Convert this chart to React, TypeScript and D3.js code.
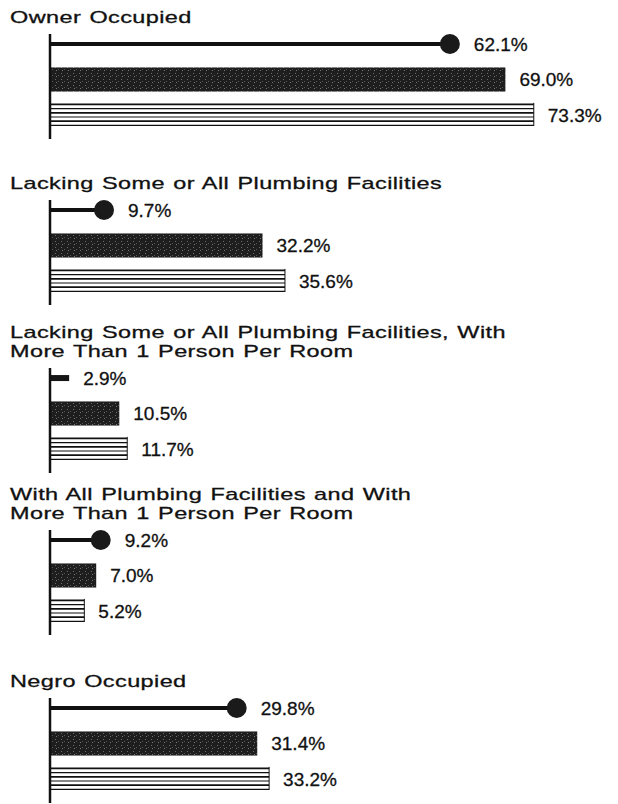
import React from 'react';
import * as d3 from 'd3';

// one entry per panel, top to bottom
const panelTitles: string[][] = [
    ['Owner Occupied'],
    ['Lacking Some or All Plumbing Facilities'],
    ['Lacking Some or All Plumbing Facilities, With', 'More Than 1 Person Per Room'],
    ['With All Plumbing Facilities and With', 'More Than 1 Person Per Room'],
    ['Negro Occupied'],
];
const seriesNames = ['dotLine', 'solid', 'striped'];
const dotLineValues = [62.1, 9.7, 2.9, 9.2, 29.8];
const solidValues = [69.0, 32.2, 10.5, 7.0, 31.4];
const stripedValues = [73.3, 35.6, 11.7, 5.2, 33.2];

// axis top of each panel
const panelTops = [34, 200, 368, 530, 698];

const WIDTH = 618;
const HEIGHT = 804;
const FONT = '"Liberation Sans", Arial, sans-serif';
const INK = '#111';

const fmt = (v: number) => `${v.toFixed(1)}%`;

const x = d3.scaleLinear().domain([0, 100]).range([50, 710]);

const Label: React.FC<{ x: number; y: number; v: number }> = ({ x, y, v }) => (
    <text x={x} y={y} dy="0.36em" fontFamily={FONT} fontSize={19} fill={INK} stroke={INK} strokeWidth={0.3}>{fmt(v)}</text>
);

const Panel: React.FC<{ i: number }> = ({ i }) => {
    const top = panelTops[i];
    const y = d3.scaleBand<string>().domain(seriesNames).range([top - 2, top + 93]).paddingInner(0.32);
    const bw = y.bandwidth();
    const r = 10;
    const lines = panelTitles[i];

    const a = dotLineValues[i];
    const b = solidValues[i];
    const c = stripedValues[i];
    const yA = (y('dotLine') as number) + bw / 2;
    const yB = y('solid') as number;
    const yC = y('striped') as number;
    const hasDot = x(a) - x(0) > 2 * r + 4;

    const stripes = d3.range(1.5, bw, 4.2);

    return (
        <g>
            {lines.map((t, k) => (
                <g key={k} transform={`translate(10,${top - 11 - (lines.length - 1 - k) * 19}) scale(1.38,1)`}>
                    <text fontFamily={FONT} fontSize={17} letterSpacing={0.3} wordSpacing={1}
                        fill={INK} stroke={INK} strokeWidth={0.3}>{t}</text>
                </g>
            ))}
            {/* dot and line */}
            {hasDot ? (
                <g>
                    <line x1={x(0)} x2={x(a) - r} y1={yA} y2={yA} stroke={INK} strokeWidth={4} />
                    <circle cx={x(a) - r} cy={yA} r={r} fill="#1a1a1a" />
                </g>
            ) : (
                <rect x={x(0)} y={yA - 3} width={x(a) - x(0)} height={6} fill="#151515" />
            )}
            <Label x={x(a) + 14} y={yA} v={a} />
            {/* solid bar */}
            <rect x={x(0)} y={yB} width={x(b) - x(0)} height={bw} fill="url(#stipple)" />
            <Label x={x(b) + 14} y={yB + bw / 2} v={b} />
            {/* striped bar */}
            {stripes.map((s, k) => (
                <line key={k} x1={x(0)} x2={x(c)} y1={yC + s} y2={yC + s} stroke={INK} strokeWidth={k % 2 === 0 ? 1.8 : 1.2} />
            ))}
            <line x1={x(c)} x2={x(c)} y1={yC} y2={yC + bw - 1} stroke={INK} strokeWidth={1} />
            <Label x={x(c) + 14} y={yC + bw / 2} v={c} />
            {/* axis */}
            <line x1={x(0)} x2={x(0)} y1={top} y2={top + 105} stroke={INK} strokeWidth={2.5} />
        </g>
    );
};

const App: React.FC = () => (
    <div style={{ position: 'absolute', left: 0, top: 0 }}>
        <svg width={WIDTH} height={HEIGHT} style={{ display: 'block', background: '#fff' }}>
            <defs>
                <pattern id="stipple" width={6} height={6} patternUnits="userSpaceOnUse">
                    <rect width={6} height={6} fill="#1e1e1e" />
                    <rect x={1} y={1} width={1} height={1} fill="#6a6a6a" />
                    <rect x={4} y={3} width={1} height={1} fill="#555" />
                    <rect x={2} y={4} width={1} height={1} fill="#777" />
                </pattern>
            </defs>
            {panelTops.map((_, i) => <Panel key={i} i={i} />)}
        </svg>
    </div>
);

export default App;
